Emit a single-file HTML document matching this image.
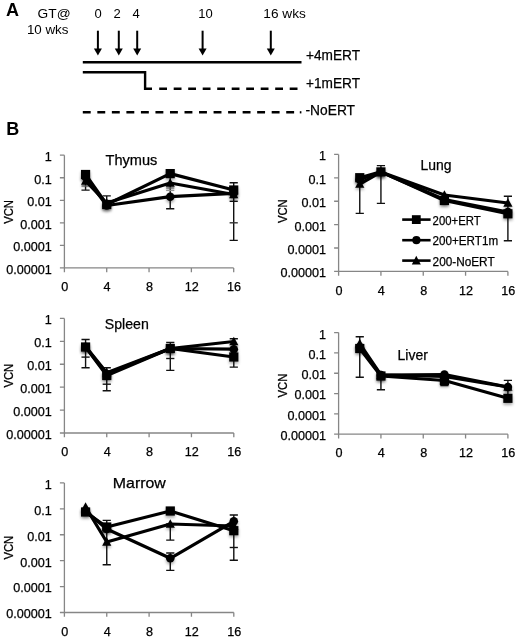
<!DOCTYPE html>
<html><head><meta charset="utf-8"><style>
html,body{margin:0;padding:0;background:#fff;}
body{width:520px;height:640px;overflow:hidden;}
svg{display:block;will-change:transform;filter:blur(0.35px);}
text{font-family:"Liberation Sans", sans-serif;fill:#000;}
.h{stroke:#000;stroke-width:0.25px;}
</style></head><body>
<svg width="520" height="640" viewBox="0 0 520 640">
<defs><filter id="sh" x="-60%" y="-60%" width="220%" height="220%">
<feGaussianBlur in="SourceAlpha" stdDeviation="1.5"/><feOffset dx="0" dy="1.5"/>
<feComponentTransfer><feFuncA type="linear" slope="0.35"/></feComponentTransfer>
<feMerge><feMergeNode/><feMergeNode in="SourceGraphic"/></feMerge></filter></defs>
<rect width="520" height="640" fill="#fff"/>
<text x="6" y="16.2" font-size="18" text-anchor="start" font-weight="bold">A</text>
<text x="70.6" y="18" font-size="13" text-anchor="end" font-weight="normal" textLength="33" lengthAdjust="spacingAndGlyphs">GT@</text>
<text x="68.5" y="34.3" font-size="13" text-anchor="end" font-weight="normal" textLength="41.6" lengthAdjust="spacingAndGlyphs">10 wks</text>
<text x="98" y="18.2" font-size="13" text-anchor="middle" font-weight="normal">0</text>
<text x="117" y="18.2" font-size="13" text-anchor="middle" font-weight="normal">2</text>
<text x="136.2" y="18.2" font-size="13" text-anchor="middle" font-weight="normal">4</text>
<text x="205.5" y="18.2" font-size="13" text-anchor="middle" font-weight="normal">10</text>
<text x="263.3" y="18.2" font-size="13" text-anchor="start" font-weight="normal" textLength="42.5" lengthAdjust="spacingAndGlyphs">16 wks</text>
<line x1="97.9" y1="30.7" x2="97.9" y2="50.4" stroke="#000" stroke-width="2"/>
<path d="M93.9 48.4L101.9 48.4L97.9 55.4Z" fill="#000"/>
<line x1="118.8" y1="30.7" x2="118.8" y2="50.4" stroke="#000" stroke-width="2"/>
<path d="M114.8 48.4L122.8 48.4L118.8 55.4Z" fill="#000"/>
<line x1="137.2" y1="30.7" x2="137.2" y2="50.4" stroke="#000" stroke-width="2"/>
<path d="M133.2 48.4L141.2 48.4L137.2 55.4Z" fill="#000"/>
<line x1="202.6" y1="30.7" x2="202.6" y2="50.4" stroke="#000" stroke-width="2"/>
<path d="M198.6 48.4L206.6 48.4L202.6 55.4Z" fill="#000"/>
<line x1="270.8" y1="30.7" x2="270.8" y2="50.4" stroke="#000" stroke-width="2"/>
<path d="M266.8 48.4L274.8 48.4L270.8 55.4Z" fill="#000"/>
<line x1="82.8" y1="62.3" x2="301.5" y2="62.3" stroke="#000" stroke-width="2.4"/>
<path d="M82.8 72.3H145.1V88.8H152" fill="none" stroke="#000" stroke-width="2.4"/>
<line x1="159.2" y1="88.7" x2="298" y2="88.7" stroke="#000" stroke-width="2.4" stroke-dasharray="7.8 6.7"/>
<line x1="82.8" y1="112.3" x2="294.2" y2="112.3" stroke="#000" stroke-width="2.4" stroke-dasharray="7.9 6.63"/>
<rect x="299.8" y="111.2" width="1.6" height="2.2" fill="#000"/>
<text x="306" y="60.25" font-size="14" text-anchor="start" font-weight="normal" textLength="54" lengthAdjust="spacingAndGlyphs" class="h">+4mERT</text>
<text x="306" y="87.5" font-size="14" text-anchor="start" font-weight="normal" textLength="54" lengthAdjust="spacingAndGlyphs" class="h">+1mERT</text>
<text x="305.5" y="115" font-size="14" text-anchor="start" font-weight="normal" textLength="49.5" lengthAdjust="spacingAndGlyphs" class="h">-NoERT</text>
<text x="6.2" y="134.8" font-size="18" text-anchor="start" font-weight="bold">B</text>
<path d="M64.4 155.2V272.2M59.9 267.9H233.7M59.9 155.2H64.4M59.9 177.74H64.4M59.9 200.28H64.4M59.9 222.82H64.4M59.9 245.36H64.4M59.9 267.9H64.4M106.72 267.9V272.2M149.05 267.9V272.2M191.38 267.9V272.2M233.7 267.9V272.2" fill="none" stroke="#868686" stroke-width="1.3"/>
<text x="51.8" y="161.1" font-size="12.6" text-anchor="end" font-weight="normal" class="h">1</text>
<text x="51.8" y="183.64" font-size="12.6" text-anchor="end" font-weight="normal" class="h">0.1</text>
<text x="51.8" y="206.18" font-size="12.6" text-anchor="end" font-weight="normal" class="h">0.01</text>
<text x="51.8" y="228.72" font-size="12.6" text-anchor="end" font-weight="normal" class="h">0.001</text>
<text x="51.8" y="251.26" font-size="12.6" text-anchor="end" font-weight="normal" class="h">0.0001</text>
<text x="51.8" y="273.8" font-size="12.6" text-anchor="end" font-weight="normal" class="h">0.00001</text>
<text x="64.8" y="291" font-size="12.6" text-anchor="middle" font-weight="normal" class="h">0</text>
<text x="107.12" y="291" font-size="12.6" text-anchor="middle" font-weight="normal" class="h">4</text>
<text x="149.45" y="291" font-size="12.6" text-anchor="middle" font-weight="normal" class="h">8</text>
<text x="191.78" y="291" font-size="12.6" text-anchor="middle" font-weight="normal" class="h">12</text>
<text x="234.1" y="291" font-size="12.6" text-anchor="middle" font-weight="normal" class="h">16</text>
<text class="h" x="0" y="0" font-size="12" text-anchor="middle" transform="translate(12.5 211.95) rotate(-90)" textLength="23.8" lengthAdjust="spacingAndGlyphs">VCN</text>
<text x="105.5" y="164.7" font-size="14.2" text-anchor="start" font-weight="normal" textLength="51.8" lengthAdjust="spacingAndGlyphs" class="h">Thymus</text>
<path d="M85.56 174V190.1M81.46 174H89.66M81.46 190.1H89.66" fill="none" stroke="#111" stroke-width="1.4"/>
<path d="M106.72 195.9V205M102.62 195.9H110.82M102.62 205H110.82" fill="none" stroke="#111" stroke-width="1.4"/>
<path d="M170.21 173V208.75M166.11 173H174.31M166.11 208.75H174.31" fill="none" stroke="#111" stroke-width="1.4"/>
<path d="M233.7 182.7V240.4M229.6 182.7H237.8M229.6 240.4H237.8" fill="none" stroke="#111" stroke-width="1.4"/>
<path d="M81.46 186H89.66" stroke="#777" stroke-width="1.4"/>
<path d="M166.11 188H174.31" stroke="#888" stroke-width="1.4"/>
<path d="M166.11 190.4H174.31" stroke="#999" stroke-width="1.4"/>
<path d="M229.6 201.3H237.8" stroke="#111" stroke-width="1.4"/>
<path d="M229.6 222.8H237.8" stroke="#333" stroke-width="1.4"/>
<polyline points="85.56,174.5 106.72,204.5 170.21,173.6 233.7,190" fill="none" stroke="#000" stroke-width="3.2" stroke-linejoin="round"/>
<rect x="80.96" y="169.9" width="9.2" height="9.2" fill="#000" filter="url(#sh)"/>
<rect x="102.12" y="199.9" width="9.2" height="9.2" fill="#000" filter="url(#sh)"/>
<rect x="165.61" y="169" width="9.2" height="9.2" fill="#000" filter="url(#sh)"/>
<rect x="229.1" y="185.4" width="9.2" height="9.2" fill="#000" filter="url(#sh)"/>
<polyline points="85.56,177 106.72,205.5 170.21,196.7 233.7,193.3" fill="none" stroke="#000" stroke-width="3.2" stroke-linejoin="round"/>
<circle cx="85.56" cy="177" r="4.3" fill="#000" filter="url(#sh)"/>
<circle cx="106.72" cy="205.5" r="4.3" fill="#000" filter="url(#sh)"/>
<circle cx="170.21" cy="196.7" r="4.3" fill="#000" filter="url(#sh)"/>
<circle cx="233.7" cy="193.3" r="4.3" fill="#000" filter="url(#sh)"/>
<polyline points="85.56,181 106.72,203 170.21,183 233.7,194.5" fill="none" stroke="#000" stroke-width="3.2" stroke-linejoin="round"/>
<path d="M85.56 176.27L90.16 184.87L80.96 184.87Z" fill="#000" filter="url(#sh)"/>
<path d="M106.72 198.27L111.32 206.87L102.12 206.87Z" fill="#000" filter="url(#sh)"/>
<path d="M170.21 178.27L174.81 186.87L165.61 186.87Z" fill="#000" filter="url(#sh)"/>
<path d="M233.7 189.77L238.3 198.37L229.1 198.37Z" fill="#000" filter="url(#sh)"/>
<path d="M338.6 154.45V275.7M334.1 271.4H507.9M334.1 154.45H338.6M334.1 177.84H338.6M334.1 201.23H338.6M334.1 224.62H338.6M334.1 248.01H338.6M334.1 271.4H338.6M380.93 271.4V275.7M423.25 271.4V275.7M465.57 271.4V275.7M507.9 271.4V275.7" fill="none" stroke="#868686" stroke-width="1.3"/>
<text x="326" y="160.35" font-size="12.6" text-anchor="end" font-weight="normal" class="h">1</text>
<text x="326" y="183.74" font-size="12.6" text-anchor="end" font-weight="normal" class="h">0.1</text>
<text x="326" y="207.13" font-size="12.6" text-anchor="end" font-weight="normal" class="h">0.01</text>
<text x="326" y="230.52" font-size="12.6" text-anchor="end" font-weight="normal" class="h">0.001</text>
<text x="326" y="253.91" font-size="12.6" text-anchor="end" font-weight="normal" class="h">0.0001</text>
<text x="326" y="277.3" font-size="12.6" text-anchor="end" font-weight="normal" class="h">0.00001</text>
<text x="339" y="294.5" font-size="12.6" text-anchor="middle" font-weight="normal" class="h">0</text>
<text x="381.32" y="294.5" font-size="12.6" text-anchor="middle" font-weight="normal" class="h">4</text>
<text x="423.65" y="294.5" font-size="12.6" text-anchor="middle" font-weight="normal" class="h">8</text>
<text x="465.97" y="294.5" font-size="12.6" text-anchor="middle" font-weight="normal" class="h">12</text>
<text x="508.3" y="294.5" font-size="12.6" text-anchor="middle" font-weight="normal" class="h">16</text>
<text class="h" x="0" y="0" font-size="12" text-anchor="middle" transform="translate(286.7 211.22) rotate(-90)" textLength="23.8" lengthAdjust="spacingAndGlyphs">VCN</text>
<text x="420.6" y="170" font-size="14.2" text-anchor="start" font-weight="normal" textLength="31" lengthAdjust="spacingAndGlyphs" class="h">Lung</text>
<path d="M359.76 180V213.4M355.66 180H363.86M355.66 213.4H363.86" fill="none" stroke="#111" stroke-width="1.4"/>
<path d="M380.93 165.6V203.4M376.82 165.6H385.03M376.82 203.4H385.03" fill="none" stroke="#111" stroke-width="1.4"/>
<path d="M507.9 196.2V240.8M503.8 196.2H512M503.8 240.8H512" fill="none" stroke="#111" stroke-width="1.4"/>
<polyline points="359.76,177.7 380.93,171.9 444.41,200.5 507.9,213.8" fill="none" stroke="#000" stroke-width="3.2" stroke-linejoin="round"/>
<rect x="355.16" y="173.1" width="9.2" height="9.2" fill="#000" filter="url(#sh)"/>
<rect x="376.32" y="167.3" width="9.2" height="9.2" fill="#000" filter="url(#sh)"/>
<rect x="439.81" y="195.9" width="9.2" height="9.2" fill="#000" filter="url(#sh)"/>
<rect x="503.3" y="209.2" width="9.2" height="9.2" fill="#000" filter="url(#sh)"/>
<polyline points="359.76,179.5 380.93,172 444.41,199.5 507.9,212" fill="none" stroke="#000" stroke-width="3.2" stroke-linejoin="round"/>
<circle cx="359.76" cy="179.5" r="4.3" fill="#000" filter="url(#sh)"/>
<circle cx="380.93" cy="172" r="4.3" fill="#000" filter="url(#sh)"/>
<circle cx="444.41" cy="199.5" r="4.3" fill="#000" filter="url(#sh)"/>
<circle cx="507.9" cy="212" r="4.3" fill="#000" filter="url(#sh)"/>
<polyline points="359.76,184 380.93,172 444.41,195 507.9,203" fill="none" stroke="#000" stroke-width="3.2" stroke-linejoin="round"/>
<path d="M359.76 179.27L364.36 187.87L355.16 187.87Z" fill="#000" filter="url(#sh)"/>
<path d="M380.93 167.27L385.53 175.87L376.32 175.87Z" fill="#000" filter="url(#sh)"/>
<path d="M444.41 190.27L449.01 198.87L439.81 198.87Z" fill="#000" filter="url(#sh)"/>
<path d="M507.9 198.27L512.5 206.87L503.3 206.87Z" fill="#000" filter="url(#sh)"/>
<path d="M64.4 318.4V437.3M59.9 433H233.8M59.9 318.4H64.4M59.9 341.32H64.4M59.9 364.24H64.4M59.9 387.16H64.4M59.9 410.08H64.4M59.9 433H64.4M106.75 433V437.3M149.1 433V437.3M191.45 433V437.3M233.8 433V437.3" fill="none" stroke="#868686" stroke-width="1.3"/>
<text x="51.8" y="324.3" font-size="12.6" text-anchor="end" font-weight="normal" class="h">1</text>
<text x="51.8" y="347.22" font-size="12.6" text-anchor="end" font-weight="normal" class="h">0.1</text>
<text x="51.8" y="370.14" font-size="12.6" text-anchor="end" font-weight="normal" class="h">0.01</text>
<text x="51.8" y="393.06" font-size="12.6" text-anchor="end" font-weight="normal" class="h">0.001</text>
<text x="51.8" y="415.98" font-size="12.6" text-anchor="end" font-weight="normal" class="h">0.0001</text>
<text x="51.8" y="438.9" font-size="12.6" text-anchor="end" font-weight="normal" class="h">0.00001</text>
<text x="64.8" y="456.1" font-size="12.6" text-anchor="middle" font-weight="normal" class="h">0</text>
<text x="107.15" y="456.1" font-size="12.6" text-anchor="middle" font-weight="normal" class="h">4</text>
<text x="149.5" y="456.1" font-size="12.6" text-anchor="middle" font-weight="normal" class="h">8</text>
<text x="191.85" y="456.1" font-size="12.6" text-anchor="middle" font-weight="normal" class="h">12</text>
<text x="234.2" y="456.1" font-size="12.6" text-anchor="middle" font-weight="normal" class="h">16</text>
<text class="h" x="0" y="0" font-size="12" text-anchor="middle" transform="translate(12.5 375.7) rotate(-90)" textLength="23.8" lengthAdjust="spacingAndGlyphs">VCN</text>
<text x="104.8" y="328.9" font-size="14.2" text-anchor="start" font-weight="normal" textLength="44" lengthAdjust="spacingAndGlyphs" class="h">Spleen</text>
<path d="M85.58 339.5V367.7M81.48 339.5H89.67M81.48 367.7H89.67" fill="none" stroke="#111" stroke-width="1.4"/>
<path d="M106.75 367.8V390.8M102.65 367.8H110.85M102.65 390.8H110.85" fill="none" stroke="#111" stroke-width="1.4"/>
<path d="M170.28 342.5V370.4M166.18 342.5H174.38M166.18 370.4H174.38" fill="none" stroke="#111" stroke-width="1.4"/>
<path d="M233.8 338.7V367.1M229.7 338.7H237.9M229.7 367.1H237.9" fill="none" stroke="#111" stroke-width="1.4"/>
<path d="M81.48 357.1H89.67" stroke="#111" stroke-width="1.4"/>
<path d="M102.65 384.2H110.85" stroke="#111" stroke-width="1.4"/>
<path d="M166.18 358.5H174.38" stroke="#111" stroke-width="1.4"/>
<polyline points="85.58,347 106.75,375.5 170.28,348.5 233.8,357" fill="none" stroke="#000" stroke-width="3.2" stroke-linejoin="round"/>
<rect x="80.98" y="342.4" width="9.2" height="9.2" fill="#000" filter="url(#sh)"/>
<rect x="102.15" y="370.9" width="9.2" height="9.2" fill="#000" filter="url(#sh)"/>
<rect x="165.68" y="343.9" width="9.2" height="9.2" fill="#000" filter="url(#sh)"/>
<rect x="229.2" y="352.4" width="9.2" height="9.2" fill="#000" filter="url(#sh)"/>
<polyline points="85.58,347 106.75,374 170.28,348.5 233.8,349.2" fill="none" stroke="#000" stroke-width="3.2" stroke-linejoin="round"/>
<circle cx="85.58" cy="347" r="4.3" fill="#000" filter="url(#sh)"/>
<circle cx="106.75" cy="374" r="4.3" fill="#000" filter="url(#sh)"/>
<circle cx="170.28" cy="348.5" r="4.3" fill="#000" filter="url(#sh)"/>
<circle cx="233.8" cy="349.2" r="4.3" fill="#000" filter="url(#sh)"/>
<polyline points="85.58,346.5 106.75,372.8 170.28,348.5 233.8,341.5" fill="none" stroke="#000" stroke-width="3.2" stroke-linejoin="round"/>
<path d="M85.58 341.77L90.17 350.37L80.98 350.37Z" fill="#000" filter="url(#sh)"/>
<path d="M106.75 368.07L111.35 376.67L102.15 376.67Z" fill="#000" filter="url(#sh)"/>
<path d="M170.28 343.77L174.88 352.37L165.68 352.37Z" fill="#000" filter="url(#sh)"/>
<path d="M233.8 336.77L238.4 345.37L229.2 345.37Z" fill="#000" filter="url(#sh)"/>
<path d="M338.6 332.6V438.5M334.1 434.2H507.9M334.1 332.6H338.6M334.1 352.92H338.6M334.1 373.24H338.6M334.1 393.56H338.6M334.1 413.88H338.6M334.1 434.2H338.6M380.93 434.2V438.5M423.25 434.2V438.5M465.57 434.2V438.5M507.9 434.2V438.5" fill="none" stroke="#868686" stroke-width="1.3"/>
<text x="326" y="338.5" font-size="12.6" text-anchor="end" font-weight="normal" class="h">1</text>
<text x="326" y="358.82" font-size="12.6" text-anchor="end" font-weight="normal" class="h">0.1</text>
<text x="326" y="379.14" font-size="12.6" text-anchor="end" font-weight="normal" class="h">0.01</text>
<text x="326" y="399.46" font-size="12.6" text-anchor="end" font-weight="normal" class="h">0.001</text>
<text x="326" y="419.78" font-size="12.6" text-anchor="end" font-weight="normal" class="h">0.0001</text>
<text x="326" y="440.1" font-size="12.6" text-anchor="end" font-weight="normal" class="h">0.00001</text>
<text x="339" y="457.3" font-size="12.6" text-anchor="middle" font-weight="normal" class="h">0</text>
<text x="381.32" y="457.3" font-size="12.6" text-anchor="middle" font-weight="normal" class="h">4</text>
<text x="423.65" y="457.3" font-size="12.6" text-anchor="middle" font-weight="normal" class="h">8</text>
<text x="465.97" y="457.3" font-size="12.6" text-anchor="middle" font-weight="normal" class="h">12</text>
<text x="508.3" y="457.3" font-size="12.6" text-anchor="middle" font-weight="normal" class="h">16</text>
<text class="h" x="0" y="0" font-size="12" text-anchor="middle" transform="translate(286.7 385.6) rotate(-90)" textLength="23.8" lengthAdjust="spacingAndGlyphs">VCN</text>
<text x="397.5" y="359.6" font-size="14.2" text-anchor="start" font-weight="normal" textLength="30.4" lengthAdjust="spacingAndGlyphs" class="h">Liver</text>
<path d="M359.76 336.7V377.3M355.66 336.7H363.86M355.66 377.3H363.86" fill="none" stroke="#111" stroke-width="1.4"/>
<path d="M380.93 376V389.7M376.82 376H385.03M376.82 389.7H385.03" fill="none" stroke="#111" stroke-width="1.4"/>
<path d="M444.41 376V385.6M440.31 376H448.51M440.31 385.6H448.51" fill="none" stroke="#111" stroke-width="1.4"/>
<path d="M507.9 380.4V397M503.8 380.4H512M503.8 397H512" fill="none" stroke="#111" stroke-width="1.4"/>
<polyline points="359.76,348.5 380.93,376 444.41,380.5 507.9,398.3" fill="none" stroke="#000" stroke-width="3.2" stroke-linejoin="round"/>
<rect x="355.16" y="343.9" width="9.2" height="9.2" fill="#000" filter="url(#sh)"/>
<rect x="376.32" y="371.4" width="9.2" height="9.2" fill="#000" filter="url(#sh)"/>
<rect x="439.81" y="375.9" width="9.2" height="9.2" fill="#000" filter="url(#sh)"/>
<rect x="503.3" y="393.7" width="9.2" height="9.2" fill="#000" filter="url(#sh)"/>
<polyline points="359.76,347 380.93,375 444.41,374.5 507.9,387" fill="none" stroke="#000" stroke-width="3.2" stroke-linejoin="round"/>
<circle cx="359.76" cy="347" r="4.3" fill="#000" filter="url(#sh)"/>
<circle cx="380.93" cy="375" r="4.3" fill="#000" filter="url(#sh)"/>
<circle cx="444.41" cy="374.5" r="4.3" fill="#000" filter="url(#sh)"/>
<circle cx="507.9" cy="387" r="4.3" fill="#000" filter="url(#sh)"/>
<polyline points="359.76,343.6 380.93,375 444.41,376.5 507.9,387" fill="none" stroke="#000" stroke-width="3.2" stroke-linejoin="round"/>
<path d="M359.76 338.87L364.36 347.47L355.16 347.47Z" fill="#000" filter="url(#sh)"/>
<path d="M380.93 370.27L385.53 378.87L376.32 378.87Z" fill="#000" filter="url(#sh)"/>
<path d="M444.41 371.77L449.01 380.37L439.81 380.37Z" fill="#000" filter="url(#sh)"/>
<path d="M507.9 382.27L512.5 390.87L503.3 390.87Z" fill="#000" filter="url(#sh)"/>
<path d="M64.4 482.9V616.8M59.9 612.5H233.8M59.9 482.9H64.4M59.9 508.82H64.4M59.9 534.74H64.4M59.9 560.66H64.4M59.9 586.58H64.4M59.9 612.5H64.4M106.75 612.5V616.8M149.1 612.5V616.8M191.45 612.5V616.8M233.8 612.5V616.8" fill="none" stroke="#868686" stroke-width="1.3"/>
<text x="51.8" y="488.8" font-size="12.6" text-anchor="end" font-weight="normal" class="h">1</text>
<text x="51.8" y="514.72" font-size="12.6" text-anchor="end" font-weight="normal" class="h">0.1</text>
<text x="51.8" y="540.64" font-size="12.6" text-anchor="end" font-weight="normal" class="h">0.01</text>
<text x="51.8" y="566.56" font-size="12.6" text-anchor="end" font-weight="normal" class="h">0.001</text>
<text x="51.8" y="592.48" font-size="12.6" text-anchor="end" font-weight="normal" class="h">0.0001</text>
<text x="51.8" y="618.4" font-size="12.6" text-anchor="end" font-weight="normal" class="h">0.00001</text>
<text x="64.8" y="635.6" font-size="12.6" text-anchor="middle" font-weight="normal" class="h">0</text>
<text x="107.15" y="635.6" font-size="12.6" text-anchor="middle" font-weight="normal" class="h">4</text>
<text x="149.5" y="635.6" font-size="12.6" text-anchor="middle" font-weight="normal" class="h">8</text>
<text x="191.85" y="635.6" font-size="12.6" text-anchor="middle" font-weight="normal" class="h">12</text>
<text x="234.2" y="635.6" font-size="12.6" text-anchor="middle" font-weight="normal" class="h">16</text>
<text class="h" x="0" y="0" font-size="12" text-anchor="middle" transform="translate(12.5 547.7) rotate(-90)" textLength="23.8" lengthAdjust="spacingAndGlyphs">VCN</text>
<text x="112.8" y="487.6" font-size="14.2" text-anchor="start" font-weight="normal" textLength="53" lengthAdjust="spacingAndGlyphs" class="h">Marrow</text>
<path d="M106.75 520.4V564.8M102.65 520.4H110.85M102.65 564.8H110.85" fill="none" stroke="#111" stroke-width="1.4"/>
<path d="M170.28 553V570.4M166.18 553H174.38M166.18 570.4H174.38" fill="none" stroke="#111" stroke-width="1.4"/>
<path d="M170.28 524V540.1M166.18 524H174.38M166.18 540.1H174.38" fill="none" stroke="#111" stroke-width="1.4"/>
<path d="M233.8 515V560.2M229.7 515H237.9M229.7 560.2H237.9" fill="none" stroke="#111" stroke-width="1.4"/>
<path d="M102.65 532.3H110.85" stroke="#777" stroke-width="1.4"/>
<path d="M229.7 547.5H237.9" stroke="#111" stroke-width="1.4"/>
<polyline points="85.58,512 106.75,527 170.28,511 233.8,530.7" fill="none" stroke="#000" stroke-width="3.2" stroke-linejoin="round"/>
<rect x="80.98" y="507.4" width="9.2" height="9.2" fill="#000" filter="url(#sh)"/>
<rect x="102.15" y="522.4" width="9.2" height="9.2" fill="#000" filter="url(#sh)"/>
<rect x="165.68" y="506.4" width="9.2" height="9.2" fill="#000" filter="url(#sh)"/>
<rect x="229.2" y="526.1" width="9.2" height="9.2" fill="#000" filter="url(#sh)"/>
<polyline points="85.58,511 106.75,529 170.28,558.3 233.8,521.3" fill="none" stroke="#000" stroke-width="3.2" stroke-linejoin="round"/>
<circle cx="85.58" cy="511" r="4.3" fill="#000" filter="url(#sh)"/>
<circle cx="106.75" cy="529" r="4.3" fill="#000" filter="url(#sh)"/>
<circle cx="170.28" cy="558.3" r="4.3" fill="#000" filter="url(#sh)"/>
<circle cx="233.8" cy="521.3" r="4.3" fill="#000" filter="url(#sh)"/>
<polyline points="85.58,507 106.75,542 170.28,524 233.8,526" fill="none" stroke="#000" stroke-width="3.2" stroke-linejoin="round"/>
<path d="M85.58 502.27L90.17 510.87L80.98 510.87Z" fill="#000" filter="url(#sh)"/>
<path d="M106.75 537.27L111.35 545.87L102.15 545.87Z" fill="#000" filter="url(#sh)"/>
<path d="M170.28 519.27L174.88 527.87L165.68 527.87Z" fill="#000" filter="url(#sh)"/>
<path d="M233.8 521.27L238.4 529.87L229.2 529.87Z" fill="#000" filter="url(#sh)"/>
<line x1="402.2" y1="219.6" x2="430.6" y2="219.6" stroke="#000" stroke-width="2.6"/>
<rect x="411.9" y="215.2" width="8.8" height="8.8" fill="#000"/>
<text x="432.6" y="224.7" font-size="12.4" text-anchor="start" font-weight="normal" textLength="48" lengthAdjust="spacingAndGlyphs" class="h">200+ERT</text>
<line x1="402.2" y1="240.2" x2="430.6" y2="240.2" stroke="#000" stroke-width="2.6"/>
<circle cx="416.4" cy="240.2" r="4.1" fill="#000"/>
<text x="432.6" y="245.3" font-size="12.4" text-anchor="start" font-weight="normal" textLength="65.5" lengthAdjust="spacingAndGlyphs" class="h">200+ERT1m</text>
<line x1="402.2" y1="260.6" x2="430.6" y2="260.6" stroke="#000" stroke-width="2.6"/>
<path d="M416.3 255.76L420.8 264.56L411.8 264.56Z" fill="#000"/>
<text x="432.6" y="265.7" font-size="12.4" text-anchor="start" font-weight="normal" textLength="62" lengthAdjust="spacingAndGlyphs" class="h">200-NoERT</text>
</svg>
</body></html>
